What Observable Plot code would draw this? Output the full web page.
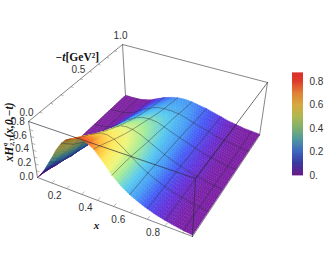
<!DOCTYPE html>
<html><head><meta charset="utf-8">
<style>html,body{margin:0;padding:0;background:#fff}svg{display:block}</style>
<script src="https://cdn.jsdelivr.net/npm/d3@7"></script>
<script src="https://cdn.jsdelivr.net/npm/@observablehq/plot@0.6"></script>
</head><body><script>
const xGrid=[0,.03,.06,.1,.13,.16,.2,.23,.26,.3,.33,.36,.4,.45,.5,.55,.6,.65,.7,.75,.8,.85,.9,.95];
const tGrid=[0,.1,.2,.3,.4,.5,.6,.7,.8,.9,1];
const row00=[0,.07,.16,.30,.41,.53,.66,.73,.77,.81,.82,.80,.74,.60,.45,.34,.26,.20,.15,.11,.08,.055,.035,.02];
const row01=[0,.03,.08,.17,.26,.36,.50,.60,.66,.71,.72,.71,.67,.56,.44,.34,.26,.20,.15,.11,.08,.055,.035,.02];
const row02=[0,.02,.05,.11,.18,.27,.39,.48,.55,.60,.62,.62,.59,.51,.42,.33,.26,.20,.15,.11,.08,.055,.035,.02];
const row03=[0,.01,.03,.08,.13,.20,.31,.39,.45,.51,.53,.54,.52,.47,.39,.32,.25,.20,.15,.11,.08,.055,.035,.02];
const row04=[0,.01,.02,.06,.10,.15,.24,.31,.37,.43,.46,.47,.46,.42,.36,.30,.24,.19,.15,.11,.08,.055,.035,.02];
const row05=[0,.005,.015,.04,.07,.11,.19,.25,.30,.36,.39,.41,.41,.38,.34,.28,.23,.18,.14,.11,.08,.055,.035,.02];
const row06=[0,.004,.01,.03,.05,.09,.15,.20,.25,.30,.33,.35,.36,.35,.31,.26,.22,.18,.14,.10,.075,.05,.03,.02];
const row07=[0,.003,.007,.02,.04,.07,.12,.16,.20,.25,.28,.30,.31,.31,.29,.25,.21,.17,.13,.10,.07,.05,.03,.02];
const row08=[0,.002,.005,.015,.03,.05,.09,.13,.17,.21,.24,.26,.27,.27,.26,.23,.19,.16,.13,.09,.07,.05,.03,.02];
const row09=[0,.001,.003,.01,.02,.04,.07,.10,.14,.18,.20,.22,.24,.24,.23,.21,.18,.15,.12,.09,.065,.045,.03,.02];
const row10=[0,.001,.002,.008,.015,.03,.05,.08,.11,.15,.17,.19,.21,.22,.21,.19,.17,.14,.11,.08,.06,.04,.03,.02];
const heights=[row00,row01,row02,row03,row04,row05,row06,row07,row08,row09,row10];

const surfaceStops=[0,.05,.1,.16,.22,.3,.4,.5,.6,.7,.78,.85];
const surfaceColors=["#7c1e9e","#7a20a8","#6430d8","#4458f5","#4498f5","#55c8f0","#a4ec98","#eef57a","#ffe85a","#ffb835","#ff7028","#f03a1c"];
const barStops=[0,.1,.2,.3,.4,.5,.6,.7,.8,.87];
const barColors=["#6a1b8a","#3a3aa0","#3f66c0","#4f96a0","#7fb070","#b0b850","#d8a840","#e07f35","#dd3a2a","#d9302a"];
const barLevels=d3.range(0,87).map(i=>i/100);
const barTicks=[[0,"0."],[.2,"0.2"],[.4,"0.4"],[.6,"0.6"],[.8,"0.8"]];
const xTicks=[.2,.4,.6,.8];
const tTicks=[0,.5,1];
const zTicks=[0,.2,.4,.6,.8];

const bot={a:[37,177],b:[192,236],c:[125,95],d:[259,135]};
const top_={a:[28,121],b:[195,178],c:[122,44],d:[267,82]};
const xMax=.95,zMax=.82;
const warpX=s=>s/(1+.15*(1-s));
const warpT=s=>s/(1-.19*(1-s));
function P(x,t,z){
  const u=warpX(x/xMax),v=warpT(t),w=z/zMax;
  const bi=(q,k)=>(q.a[k]*(1-u)+q.b[k]*u)*(1-v)+(q.c[k]*(1-u)+q.d[k]*u)*v;
  return [bi(bot,0)*(1-w)+bi(top_,0)*w, bi(bot,1)*(1-w)+bi(top_,1)*w];
}
const colorOf=d3.scaleLinear().domain(surfaceStops).range(surfaceColors).clamp(true);
const isMeshX=x=>x>0&&Math.abs(x*10-Math.round(x*10))<1e-6;
const isMeshT=t=>t>0&&t<1&&Math.abs(t*5-Math.round(t*5))<1e-6;

const paint=[];let id=0;
function seg(a,b,stroke,sw){
  id++;for(const p of [a,b])paint.push({id,px:p[0],py:p[1],fill:"none",stroke,sw});
}
const shade=4; // sub-facets per table cell, as a renderer's smooth shading
for(let j=tGrid.length-2;j>=0;j--){
  for(let i=0;i<xGrid.length-1;i++){
    const at=(a,b)=>{
      const z=(heights[j][i]*(1-a)+heights[j][i+1]*a)*(1-b)+(heights[j+1][i]*(1-a)+heights[j+1][i+1]*a)*b;
      return [xGrid[i]+(xGrid[i+1]-xGrid[i])*a,tGrid[j]+(tGrid[j+1]-tGrid[j])*b,z];
    };
    for(let b=shade-1;b>=0;b--)for(let a=0;a<shade;a++){
      const c=[at(a/shade,b/shade),at((a+1)/shade,b/shade),at((a+1)/shade,(b+1)/shade),at(a/shade,(b+1)/shade)];
      const p=c.map(q=>P(...q));
      const mean=d3.mean(c,q=>q[2]);
      let area=0;for(let k=0;k<4;k++){const n=p[(k+1)%4];area+=p[k][0]*n[1]-n[0]*p[k][1];}
      const col=area>0?d3.color(colorOf(mean)).darker(1.6).formatHex():d3.color(colorOf(mean)).formatHex();
      id++;
      for(const q of [...p,p[0]])paint.push({id,px:q[0],py:q[1],fill:col,stroke:col,sw:.4});
    }
    const p0=P(xGrid[i],tGrid[j],heights[j][i]),p3=P(xGrid[i],tGrid[j+1],heights[j+1][i]),p2=P(xGrid[i+1],tGrid[j+1],heights[j+1][i+1]);
    const ms="rgba(45,45,60,.62)";
    if(isMeshX(xGrid[i]))seg(p0,p3,ms,.7);
    if(isMeshT(tGrid[j+1]))seg(p3,p2,ms,.7);
  }
}
const backBox=[[top_.a,top_.c],[top_.c,top_.d],[top_.a,bot.a],[top_.c,bot.c],[top_.d,bot.d],[bot.a,bot.b],[bot.b,bot.d],[bot.a,bot.c],[bot.c,bot.d]];
const frontBox=[[top_.a,top_.b],[top_.b,top_.d],[top_.b,bot.b]];
const segs=(list)=>list.flatMap((s,i)=>[{i,px:s[0][0],py:s[0][1]},{i,px:s[1][0],py:s[1][1]}]);
const tickSegs=[
  ...d3.range(1,10).map(i=>i/10).map(x=>[P(x,0,0),P(x,.025,0)]),
  ...[.1,.2,.3,.4,.5,.6,.7,.8,.9].map(t=>[P(0,t,.82),P(.015,t,.82)]),
  ...[.1,.2,.3,.4,.5,.6,.7].map(z=>[P(0,0,z),P(.02,0,z)])
];
const serif="Liberation Serif",sans="Liberation Sans";
const lab=(text,x,y,o={})=>Plot.text([text],{x:()=>x,y:()=>y,text:d=>d,fontSize:10,fontFamily:sans,fill:"#333",...o});
const barColor=d3.scaleLinear().domain(barStops).range(barColors);

const chart=Plot.plot({
  width:326,height:258,margin:0,
  x:{domain:[0,326],range:[0,326],axis:null},
  y:{domain:[0,258],range:[0,258],axis:null},
  marks:[
    Plot.line(segs(backBox),{x:"px",y:"py",z:"i",stroke:"#666",strokeWidth:.8}),
    Plot.line(segs(tickSegs),{x:"px",y:"py",z:"i",stroke:"#888",strokeWidth:.6}),
    Plot.line(paint,{x:"px",y:"py",z:"id",fill:"fill",stroke:"stroke",strokeWidth:"sw",strokeLinejoin:"round"}),
    Plot.line(segs(frontBox),{x:"px",y:"py",z:"i",stroke:"#2a2a3a",strokeWidth:.8,strokeOpacity:.85}),
    Plot.text(xTicks,{x:d=>P(d,0,0)[0],y:d=>P(d,0,0)[1],dx:-12,dy:7,text:d=>d.toFixed(1),fontSize:10,fontFamily:sans,fill:"#333"}),
    Plot.text(tTicks,{x:d=>P(0,d,.82)[0],y:d=>P(0,d,.82)[1],dx:-2,dy:-9,text:d=>d.toFixed(1),fontSize:10,fontFamily:sans,fill:"#333"}),
    Plot.text(zTicks,{x:d=>P(0,0,d)[0],y:d=>P(0,0,d)[1],dx:-4,dy:-1,text:d=>d.toFixed(1),textAnchor:"end",fontSize:10,fontFamily:sans,fill:"#333"}),
    lab("−t",65,57,{textAnchor:"end",fontFamily:serif,fontWeight:"bold",fontStyle:"italic",fontSize:11.5,fill:"#111"}),
    lab("[GeV²]",65,57,{textAnchor:"start",fontFamily:serif,fontWeight:"bold",fontSize:11.5,fill:"#111"}),
    lab("x",96,225,{fontFamily:serif,fontWeight:"bold",fontStyle:"italic",fontSize:11,fill:"#111"}),
    lab("xH",8.5,161,{rotate:-90,textAnchor:"start",fontFamily:serif,fontWeight:"bold",fontStyle:"italic",fontSize:11.5,fill:"#111"}),
    lab("q",4.5,145.5,{rotate:-90,textAnchor:"start",fontFamily:serif,fontWeight:"bold",fontStyle:"italic",fontSize:6.5,fill:"#111"}),
    lab("2,T",12,145.5,{rotate:-90,textAnchor:"start",fontFamily:serif,fontWeight:"bold",fontStyle:"italic",fontSize:6,fill:"#111"}),
    lab("(x,0,−t)",8.5,137,{rotate:-90,textAnchor:"start",fontFamily:serif,fontWeight:"bold",fontStyle:"italic",fontSize:11.5,fill:"#111"}),
    Plot.rect(barLevels,{x1:()=>292,x2:()=>303,y1:d=>175-d*117.5+.4,y2:d=>175-(d+.01)*117.5-.4,fill:d=>barColor(d)}),
    Plot.text(barTicks,{x:()=>309,y:d=>175-d[0]*117.5,text:d=>d[1],textAnchor:"start",fontSize:10,fontFamily:sans,fill:"#333"})
  ]
});
document.body.appendChild(chart);
</script></body></html>
